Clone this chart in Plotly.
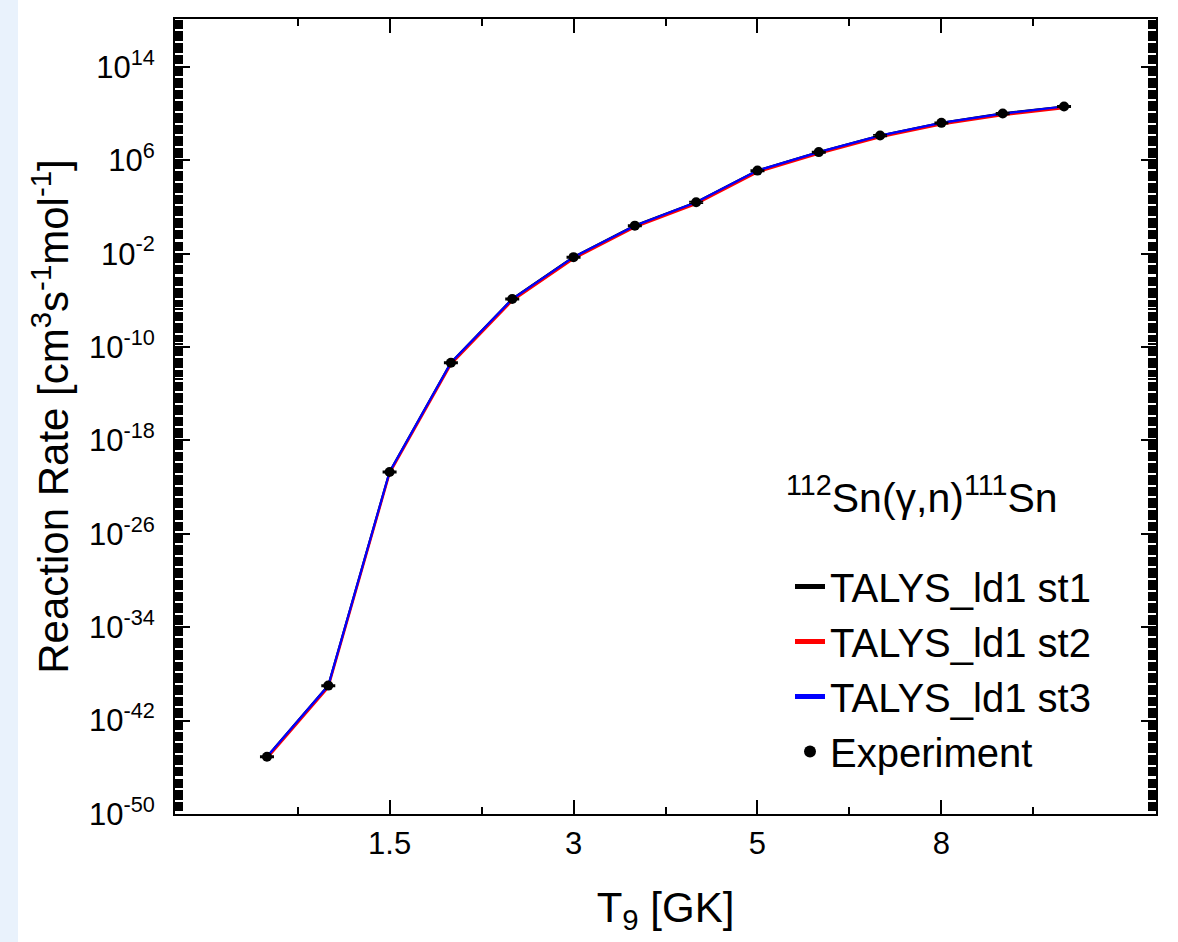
import plotly.graph_objects as go

# Temperature grid (GK) and reaction rates for 112Sn(g,n)111Sn
T9 = [0.9, 1.0, 1.5, 2.0, 2.5, 3.0, 3.5, 4.0, 5.0, 6.0, 7.0, 8.0, 9.0, 10.0]
rate_st1 = [8.1e-46, 1.02e-39, 2.05e-21, 4.6e-12, 1.32e-6, 5.1e-3, 2.55, 2.55e2, 1.33e5, 5.1e6, 1.32e8, 1.62e9, 1.02e10, 4.05e10]
rate_st2 = [5.6e-46, 7.0e-40, 1.45e-21, 3.2e-12, 0.92e-6, 3.6e-3, 1.8, 1.8e2, 0.93e5, 3.6e6, 0.93e8, 1.15e9, 0.72e10, 2.9e10]
rate_st3 = [8.0e-46, 1.0e-39, 2.0e-21, 4.5e-12, 1.3e-6, 5.0e-3, 2.5, 2.5e2, 1.3e5, 5.0e6, 1.3e8, 1.6e9, 1.0e10, 4.0e10]
rate_exp = [8.0e-46, 1.0e-39, 2.0e-21, 4.5e-12, 1.3e-6, 5.0e-3, 2.5, 2.5e2, 1.3e5, 5.0e6, 1.3e8, 1.6e9, 1.0e10, 4.0e10]

series_names = ["TALYS_ld1 st1", "TALYS_ld1 st2", "TALYS_ld1 st3"]
series_colors = ["#000000", "#ff0000", "#0000ff"]

FONT = "Arial, Liberation Sans, Helvetica, sans-serif"

# points are placed evenly along the axis, one slot per temperature
pos = list(range(len(T9)))

fig = go.Figure()
for name, col, vals in zip(series_names, series_colors, [rate_st1, rate_st2, rate_st3]):
    fig.add_trace(go.Scatter(x=pos, y=vals, mode="lines", name=name,
                             line=dict(color=col, width=2.2)))

fig.add_trace(go.Scatter(
    x=pos, y=rate_exp, mode="markers", name="Experiment",
    marker=dict(color="black", size=10, symbol="circle"),
    error_y=dict(type="percent", value=15, width=7, thickness=1.5, color="black"),
))

X_RANGE = [-1.5, 14.5]
Y_RANGE = [-50, 18.1]

# x ticks: a long tick every third slot (labelled where a temperature sits),
# minor ticks half way between
major_x = list(range(-1, len(T9) + 1, 3))
label_x = [i for i in major_x if 0 <= i < len(T9)]
label_x_text = [f"{T9[i]:g}" for i in label_x]
plain_x = [i for i in major_x if i not in label_x]
minor_x = [m + 1.5 for m in major_x[:-1]]

# y ticks: a tick every decade, labelled every eighth decade, 2..9 minors
decades = list(range(-50, 19))
label_dec = [k for k in decades if (k + 50) % 8 == 0]
label_y = [10.0 ** k for k in label_dec]
label_y_text = [f"10<sup>{k}</sup>" for k in label_dec]
plain_y = [10.0 ** k for k in decades if k not in label_dec]
minor_y = [m * 10.0 ** k for k in decades[:-1] for m in range(2, 10)]

tick_font = dict(family=FONT, size=31, color="black")

fig.update_layout(
    xaxis=dict(
        range=X_RANGE, tickmode="array", tickvals=label_x, ticktext=label_x_text,
        ticks="inside", ticklen=14, tickwidth=2, tickcolor="black",
        minor=dict(tickmode="array", tickvals=minor_x, ticks="inside", ticklen=7,
                   tickwidth=2, tickcolor="black"),
        showline=True, linewidth=2, linecolor="black", mirror="allticks",
        showgrid=False, zeroline=False, tickfont=tick_font, ticklabelstandoff=1,
        title=dict(text="T<sub>9</sub> [GK]", font=dict(family=FONT, size=42, color="black"),
                   standoff=32),
    ),
    xaxis2=dict(
        overlaying="x", anchor="y", side="bottom", range=X_RANGE,
        tickmode="array", tickvals=plain_x, showticklabels=False,
        ticks="inside", ticklen=14, tickwidth=2, tickcolor="black",
        showline=False, mirror="ticks", showgrid=False, zeroline=False,
    ),
    yaxis=dict(
        type="log", range=Y_RANGE, tickmode="array", tickvals=label_y, ticktext=label_y_text,
        ticks="inside", ticklen=15, tickwidth=2, tickcolor="black",
        minor=dict(tickmode="array", tickvals=minor_y, ticks="inside", ticklen=8,
                   tickwidth=2, tickcolor="black"),
        showline=True, linewidth=2, linecolor="black", mirror="allticks",
        showgrid=False, zeroline=False, tickfont=tick_font, ticklabelstandoff=12,
        title=dict(text="Reaction Rate [cm<sup>3</sup>s<sup>-1</sup>mol<sup>-1</sup>]",
                   font=dict(family=FONT, size=42, color="black"), standoff=7),
    ),
    yaxis2=dict(
        overlaying="y", anchor="x", side="left", type="log", range=Y_RANGE,
        tickmode="array", tickvals=plain_y, showticklabels=False,
        ticks="inside", ticklen=15, tickwidth=2, tickcolor="black",
        showline=False, mirror="ticks", showgrid=False, zeroline=False,
    ),
)

fig.add_annotation(
    text="<sup>112</sup>Sn(γ,n)<sup>111</sup>Sn", xref="paper", yref="paper",
    x=(922 - 175) / 981, y=(814 - 495) / 795, xanchor="center", yanchor="middle",
    showarrow=False, font=dict(family=FONT, size=41, color="black"),
)

# light slide-coloured strip at the far left of the page
fig.add_shape(type="rect", xref="paper", yref="paper",
              x0=-175 / 981, x1=-157 / 981, y0=-128 / 795, y1=1 + 19 / 795,
              fillcolor="#e9f2fc", line=dict(width=0), layer="below")

fig.update_layout(
    width=1178, height=942,
    margin=dict(l=175, r=22, t=19, b=128, autoexpand=False),
    paper_bgcolor="white", plot_bgcolor="white",
    font=dict(family=FONT, color="black"),
    showlegend=True,
    legend=dict(x=(790 - 175) / 981, y=(814 - 554) / 795, xanchor="left", yanchor="top",
                bgcolor="rgba(0,0,0,0)", borderwidth=0,
                font=dict(family=FONT, size=40, color="black"),
                tracegroupgap=0, itemsizing="constant"),
)

fig.write_html("out.html")
